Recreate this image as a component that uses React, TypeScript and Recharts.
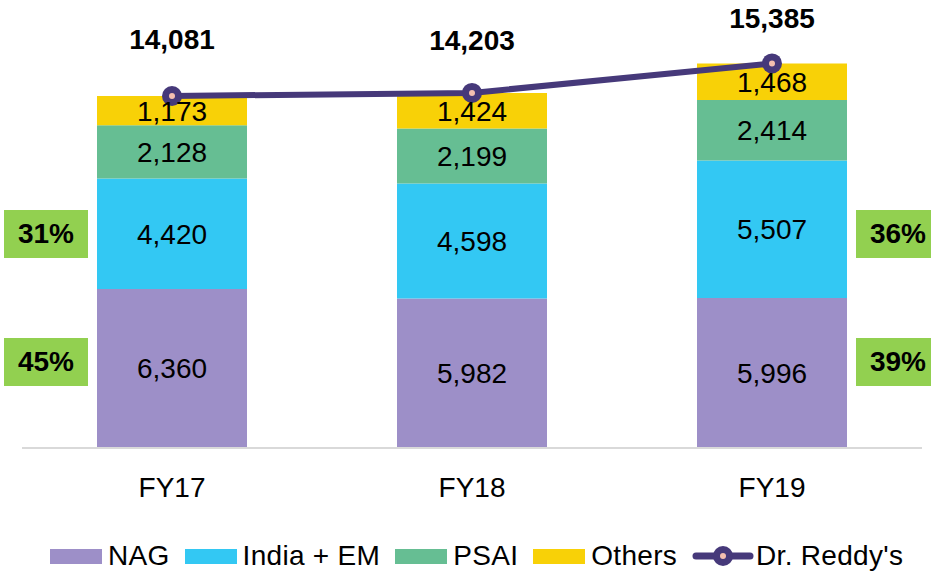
import { Bar, ComposedChart, LabelList, Legend, Line, XAxis, YAxis } from 'recharts';

// Revenue by segment (Rs. crore), Dr. Reddy's FY17-FY19
const years = ['FY17', 'FY18', 'FY19'];
const nag = [6360, 5982, 5996];
const indiaEm = [4420, 4598, 5507];
const psai = [2128, 2199, 2414];
const others = [1173, 1424, 1468];
const totals = [14081, 14203, 15385];

// share boxes: NAG / India + EM in first and last year
const leftShares = ['31%', '45%'];
const rightShares = ['36%', '39%'];

const data = years.map((year, i) => ({
  year,
  nag: nag[i],
  indiaEm: indiaEm[i],
  psai: psai[i],
  others: others[i],
  total: totals[i],
}));

const FONT = '"Liberation Sans", Arial, Helvetica, sans-serif';
const FONT_SIZE = 28;
const LINE_COLOR = '#46397A';
const DOT_CENTER = '#F4BFB0';
const SHARE_GREEN = '#92D050';

const series = [
  { key: 'nag', name: 'NAG', color: '#9D8FC8' },
  { key: 'indiaEm', name: 'India + EM', color: '#33C8F3' },
  { key: 'psai', name: 'PSAI', color: '#66BE93' },
  { key: 'others', name: 'Others', color: '#F8D107' },
];

// total labels were nudged by hand in the source, lift per year
const LABEL_LIFT = [56, 52, 45];

const fmt = (v: unknown) => Number(v).toLocaleString('en-US');

function TotalLabel(props: any) {
  const { x, y, value, index } = props;
  return (
    <text
      x={x}
      y={y - LABEL_LIFT[index]}
      textAnchor="middle"
      dominantBaseline="central"
      fontFamily={FONT}
      fontSize={FONT_SIZE}
      fontWeight="bold"
      fill="#000"
    >
      {fmt(value)}
    </text>
  );
}

function TotalDot(props: any) {
  const { cx, cy } = props;
  return (
    <g>
      <circle cx={cx} cy={cy} r={10} fill={LINE_COLOR} />
      <circle cx={cx} cy={cy} r={3} fill={DOT_CENTER} />
    </g>
  );
}

function LegendContent() {
  return (
    <div
      style={{
        display: 'flex',
        alignItems: 'center',
        height: 40,
        paddingLeft: 50,
        paddingTop: 8,
        boxSizing: 'border-box',
        fontFamily: FONT,
        fontSize: FONT_SIZE,
        letterSpacing: 0.3,
        color: '#000',
      }}
    >
      {series.map((s) => (
        <div key={s.key} style={{ display: 'flex', alignItems: 'center', marginRight: 15 }}>
          <span style={{ display: 'inline-block', width: 52, height: 15, background: s.color, marginRight: 6 }} />
          <span>{s.name}</span>
        </div>
      ))}
      <div style={{ display: 'flex', alignItems: 'center' }}>
        <svg width={62} height={24} style={{ marginRight: 2 }}>
          <line x1={4} y1={12} x2={58} y2={12} stroke={LINE_COLOR} strokeWidth={7} strokeLinecap="round" />
          <circle cx={31} cy={12} r={10} fill={LINE_COLOR} />
          <circle cx={31} cy={12} r={3} fill={DOT_CENTER} />
        </svg>
        <span>Dr. Reddy's</span>
      </div>
    </div>
  );
}

function ShareBox({ left, top, text }: { left: number; top: number; text: string }) {
  return (
    <div
      style={{
        position: 'absolute',
        left,
        top,
        width: 84,
        height: 48,
        background: SHARE_GREEN,
        display: 'flex',
        alignItems: 'center',
        justifyContent: 'center',
        fontFamily: FONT,
        fontSize: FONT_SIZE,
        fontWeight: 'bold',
        color: '#000',
      }}
    >
      {text}
    </div>
  );
}

export default function App() {
  return (
    <div
      style={{
        position: 'absolute',
        left: 0,
        top: 0,
        width: 931,
        height: 572,
        overflow: 'hidden',
        background: '#fff',
      }}
    >
      <ComposedChart
        width={931}
        height={572}
        data={data}
        margin={{ top: 48, right: 9, left: 22, bottom: 0 }}
      >
        <XAxis
          dataKey="year"
          tickLine={false}
          tickSize={0}
          tickMargin={29}
          height={84}
          axisLine={{ stroke: '#D9D9D9', strokeWidth: 2 }}
          tick={{ fill: '#000', fontSize: FONT_SIZE, fontFamily: FONT }}
        />
        <YAxis hide domain={[0, 16000]} />
        <Legend
          verticalAlign="bottom"
          content={<LegendContent />}
          wrapperStyle={{ left: 0, width: 931 }}
        />
        {series.map((s) => (
          <Bar
            key={s.key}
            dataKey={s.key}
            name={s.name}
            stackId="rev"
            fill={s.color}
            barSize={150}
            isAnimationActive={false}
          >
            <LabelList
              dataKey={s.key}
              position="center"
              formatter={fmt}
              fill="#000"
              fontSize={FONT_SIZE}
              fontFamily={FONT}
            />
          </Bar>
        ))}
        <Line
          dataKey="total"
          name="Dr. Reddy's"
          stroke={LINE_COLOR}
          strokeWidth={6}
          dot={<TotalDot />}
          activeDot={false}
          isAnimationActive={false}
        >
          <LabelList dataKey="total" content={<TotalLabel />} />
        </Line>
      </ComposedChart>
      <ShareBox left={4} top={210} text={leftShares[0]} />
      <ShareBox left={4} top={338} text={leftShares[1]} />
      <ShareBox left={856} top={210} text={rightShares[0]} />
      <ShareBox left={856} top={338} text={rightShares[1]} />
    </div>
  );
}
